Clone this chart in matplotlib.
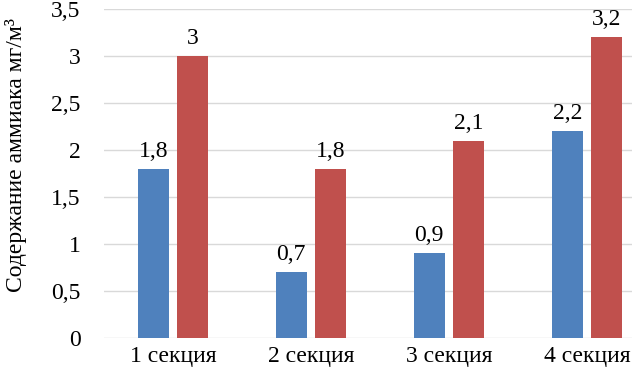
import numpy as np
import matplotlib
matplotlib.use('Agg')
import matplotlib.pyplot as plt

plt.rcParams['font.family'] = ['Liberation Serif', 'DejaVu Serif']

categories = ['1 секция', '2 секция', '3 секция', '4 секция']
series1 = [1.8, 0.7, 0.9, 2.2]
series2 = [3, 1.8, 2.1, 3.2]
yticks = [0, 0.5, 1, 1.5, 2, 2.5, 3, 3.5]


def fmt(v):
    return ('%g' % v).replace('.', ',')


fig = plt.figure(figsize=(6.32, 3.80), dpi=100)
ax = fig.add_axes([0.1646, 0.1105, 0.8354, 0.8655])

x = np.arange(len(categories))
w = 0.225
off = 0.143
b1 = ax.bar(x - off, series1, w, color='#4F81BD', zorder=3)
b2 = ax.bar(x + off, series2, w, color='#C0504D', zorder=3)

for bars, vals in ((b1, series1), (b2, series2)):
    for r, v in zip(bars, vals):
        ax.annotate(fmt(v), (r.get_x() + r.get_width() / 2, v),
                    xytext=(0, 5), textcoords='offset points',
                    ha='center', va='bottom', fontsize=17)

ax.set_xlim(-0.5, 3.326)
ax.set_ylim(0, 3.5)
ax.set_yticks(yticks)
ax.set_yticklabels([fmt(v) for v in yticks], fontsize=17)
ax.set_xticks(x)
ax.set_xticklabels(categories, fontsize=17)
ax.grid(axis='y', color='#D9D9D9', linewidth=1, zorder=0)
for s in ax.spines.values():
    s.set_visible(False)
ax.tick_params(length=0)
ax.tick_params(axis='y', pad=17)
ax.tick_params(axis='x', pad=6)
ax.set_ylabel('Содержание аммиака мг/м³', fontsize=17)
ax.yaxis.set_label_coords(-0.146, 0.555)

fig.savefig('out.png', dpi=100)
